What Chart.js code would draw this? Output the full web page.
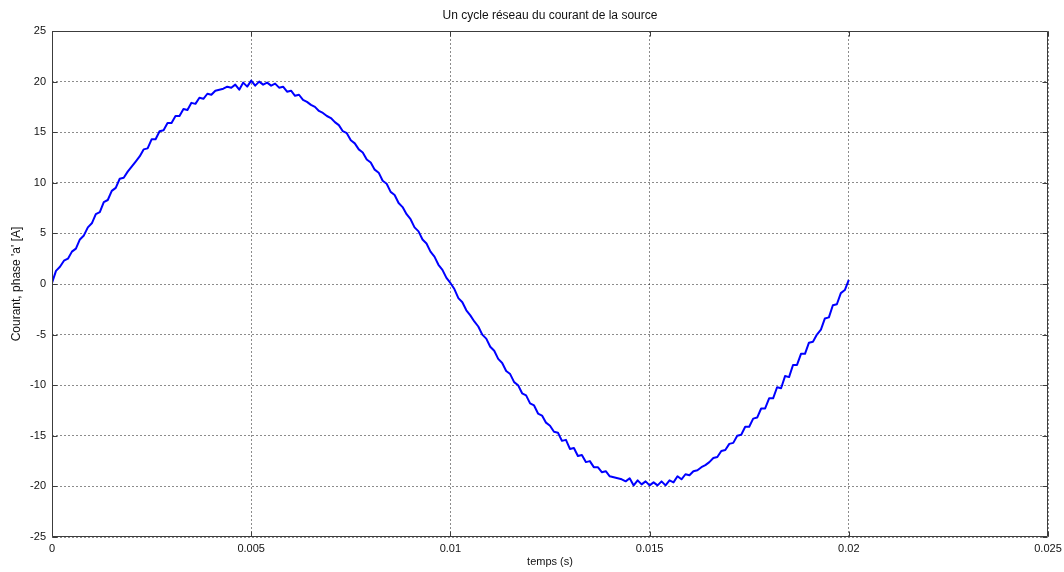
<!DOCTYPE html>
<html>
<head>
<meta charset="utf-8">
<title>Courant de la source</title>
<script src="https://cdn.jsdelivr.net/npm/chart.js@4/dist/chart.umd.min.js"></script>
<style>
  html, body { margin: 0; padding: 0; background: #ffffff; }
  canvas { display: block; }
</style>
</head>
<body>
<canvas id="sourceCurrentChart" width="1064" height="572"></canvas>
<script>
// sampling period of the recorded current (s)
const samplePeriod = 0.0001;

// phase 'a' current over one mains cycle, one value per sample (A)
const currentRise = [
  0.1, 1.3, 1.7, 2.3, 2.5, 3.2, 3.5, 4.4, 4.8, 5.6,
  6.0, 6.9, 7.1, 8.1, 8.3, 9.2, 9.5, 10.4, 10.5, 11.1,
  11.6, 12.1, 12.6, 13.3, 13.4, 14.3, 14.3, 15.1, 15.2, 15.9,
  15.9, 16.6, 16.6, 17.3, 17.2, 17.9, 17.8, 18.4, 18.3, 18.8,
  18.7, 19.1, 19.2, 19.3, 19.5, 19.4, 19.7, 19.2, 19.9, 19.5,
  20.1
];
const currentFall = [
  19.6, 20.0, 19.7, 19.9, 19.6, 19.8, 19.4, 19.5, 19.0, 19.1,
  18.6, 18.7, 18.2, 18.0, 17.7, 17.5, 17.1, 16.9, 16.6, 16.4,
  16.0, 15.7, 15.1, 14.9, 14.2, 13.9, 13.3, 13.0, 12.3, 12.0,
  11.3, 11.0, 10.2, 9.9, 9.1, 8.8, 8.0, 7.6, 6.9, 6.4,
  5.6, 5.2, 4.4, 4.0, 3.2, 2.7, 1.9, 1.4, 0.6, 0.1
];
const currentNegative = [
  -0.5, -1.4, -1.8, -2.6, -3.1, -3.7, -4.2, -5.0, -5.4, -6.2,
  -6.6, -7.4, -7.8, -8.6, -8.9, -9.7, -10.0, -10.8, -11.0, -11.8,
  -12.0, -12.8, -13.0, -13.7, -14.0, -14.6, -14.7, -15.5, -15.4, -16.3,
  -16.2, -17.0, -16.9, -17.6, -17.5, -18.1, -18.1, -18.6, -18.5, -19.0,
  -19.1, -19.2, -19.3, -19.5, -19.2, -19.9, -19.4, -19.8, -19.5, -19.9
];
const currentReturn = [
  -19.6, -19.9, -19.5, -19.9, -19.4, -19.6, -19.0, -19.3, -18.8, -18.9,
  -18.5, -18.4, -18.1, -17.9, -17.6, -17.2, -17.1, -16.5, -16.4, -15.8,
  -15.7, -15.0, -14.9, -14.1, -14.1, -13.3, -13.2, -12.3, -12.3, -11.3,
  -11.3, -10.2, -10.3, -9.1, -9.2, -8.0, -8.0, -6.9, -6.9, -5.8,
  -5.7, -5.0, -4.5, -3.4, -3.3, -2.1, -2.0, -0.9, -0.6, 0.4
];

// axis ticks
const timeTicks = [0, 0.005, 0.01, 0.015, 0.02, 0.025];
const currentTicks = [-25, -20, -15, -10, -5, 0, 5, 10, 15, 20, 25];

const chartTitle = "Un cycle réseau du courant de la source";
const xAxisTitle = "temps (s)";
const yAxisTitle = "Courant, phase 'a' [A]";

const fontFamily = "'Liberation Sans', Arial, Helvetica, sans-serif";

/*
 * build the {x, y} points for the line
 */
function getCurrentPoints() {
  const values = [...currentRise, ...currentFall, ...currentNegative, ...currentReturn];
  return values.map((v, i) => ({ x: +(i * samplePeriod).toFixed(4), y: v }));
}

/*
 * box around the axes and the small inward tick marks
 */
const axesBoxPlugin = {
  id: "axesBox",
  afterDraw(chart) {
    const { ctx, chartArea } = chart;
    const xScale = chart.scales.x;
    const yScale = chart.scales.y;
    const l = Math.round(chartArea.left) + 0.5;
    const r = Math.round(chartArea.right) - 0.5;
    const t = Math.round(chartArea.top) + 0.5;
    const b = Math.round(chartArea.bottom) - 0.5;
    const tickLen = 5;

    ctx.save();
    ctx.strokeStyle = "#3c3c3c";
    ctx.lineWidth = 1;
    ctx.setLineDash([]);
    ctx.beginPath();
    ctx.rect(l, t, r - l, b - t);

    timeTicks.forEach((v) => {
      const px = Math.round(xScale.getPixelForValue(v)) + 0.5;
      ctx.moveTo(px, b);
      ctx.lineTo(px, b - tickLen);
      ctx.moveTo(px, t);
      ctx.lineTo(px, t + tickLen);
    });
    currentTicks.forEach((v) => {
      const py = Math.round(yScale.getPixelForValue(v)) + 0.5;
      ctx.moveTo(l, py);
      ctx.lineTo(l + tickLen, py);
      ctx.moveTo(r, py);
      ctx.lineTo(r - tickLen, py);
    });
    ctx.stroke();
    ctx.restore();
  },
};

function getChartConfig() {
  const gridStyle = {
    color: "rgba(0, 0, 0, 0.45)",
    lineWidth: 1,
    drawTicks: false,
  };

  return {
    type: "line",
    data: {
      datasets: [
        {
          data: getCurrentPoints(),
          borderColor: "#0000ff",
          backgroundColor: "#0000ff",
          borderWidth: 2,
          borderJoinStyle: "round",
          pointRadius: 0,
          tension: 0,
          fill: false,
        },
      ],
    },
    options: {
      responsive: false,
      animation: false,
      devicePixelRatio: 1,
      layout: {
        padding: { top: 0, right: 16, bottom: 0, left: 0 },
      },
      scales: {
        x: {
          type: "linear",
          min: 0,
          max: 0.025,
          afterFit: (scale) => {
            scale.height = 35;
            // the last tick label may run past the plot edge
            scale.paddingLeft = 0;
            scale.paddingRight = 0;
          },
          afterBuildTicks: (scale) => {
            scale.ticks = timeTicks.map((v) => ({ value: v }));
          },
          ticks: {
            padding: 5,
            color: "#111",
            maxRotation: 0,
            font: { family: fontFamily, size: 11 },
            callback: (v) => String(+v.toFixed(3)),
          },
          grid: gridStyle,
          border: { display: false, dash: [2, 2] },
          title: {
            display: true,
            text: xAxisTitle,
            color: "#111",
            font: { family: fontFamily, size: 11, lineHeight: 1 },
            padding: { top: 0, bottom: 5 },
          },
        },
        y: {
          type: "linear",
          min: -25,
          max: 25,
          afterFit: (scale) => {
            scale.width = 52;
            scale.paddingTop = 0;
            scale.paddingBottom = 0;
          },
          afterBuildTicks: (scale) => {
            scale.ticks = currentTicks.map((v) => ({ value: v }));
          },
          ticks: {
            padding: 6,
            color: "#111",
            font: { family: fontFamily, size: 11 },
          },
          grid: gridStyle,
          border: { display: false, dash: [2, 2] },
          title: {
            display: true,
            text: yAxisTitle,
            color: "#111",
            font: { family: fontFamily, size: 12, lineHeight: 1 },
            padding: { top: 11, bottom: 0 },
          },
        },
      },
      plugins: {
        legend: { display: false },
        tooltip: { enabled: false },
        title: {
          display: true,
          text: chartTitle,
          fullSize: false,
          color: "#111",
          font: { family: fontFamily, size: 12, weight: "normal", lineHeight: 1 },
          padding: { top: 10, bottom: 9 },
        },
      },
    },
    plugins: [axesBoxPlugin],
  };
}

const sourceCurrentChart = new Chart(
  document.getElementById("sourceCurrentChart"),
  getChartConfig()
);
</script>
</body>
</html>
